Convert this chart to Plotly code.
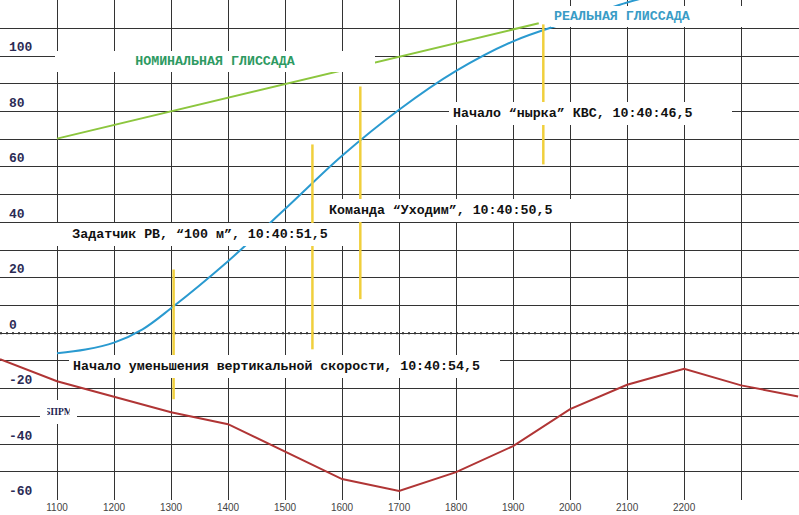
import plotly.graph_objects as go

# ---------------- data ----------------
distance_ticks = [1000, 1100, 1200, 1300, 1400, 1500, 1600, 1700, 1800,
                  1900, 2000, 2100, 2200, 2300, 2400]
distance_tick_labels = ["", "1100", "1200", "1300", "1400", "1500", "1600",
                        "1700", "1800", "1900", "2000", "2100", "2200", "", ""]
height_ticks = [-60, -40, -20, 0, 20, 40, 60, 80, 100]
height_tick_labels = ["-60", "-40", "-20", "0", "20", "40", "60", "80", "100"]

nominal_x = [1100, 1945]
nominal_y = [70.2, 111.8]

real_x = [1100, 1150, 1200, 1250, 1300, 1400, 1500, 1600, 1700, 1800, 1900, 2000, 2100, 2150]
real_y = [-7.2, -5.9, -3.4, 1.4, 9.0, 26.0, 44.8, 64.0, 80.6, 94.6, 105.3, 112.5, 119.3, 122.0]

vspeed_x = [1000, 1100, 1300, 1400, 1600, 1700, 1800, 1900, 2000, 2100, 2200, 2300, 2400]
vspeed_y = [-9.4, -17.3, -28.5, -32.8, -52.6, -56.9, -50.1, -40.7, -27.4, -18.6, -12.8, -18.8, -22.8]

event_x = [1304.5, 1548, 1632, 1953]
event_y_low = [-23.8, -5.8, 12.3, 60.9]
event_y_high = [23.0, 68.1, 89.0, 111.4]

event_texts = [
    "Начало “нырка” КВС, 10:40:46,5",
    "Команда “Уходим”, 10:40:50,5",
    "Задатчик РВ, “100 м”, 10:40:51,5",
    "Начало уменьшения вертикальной скорости, 10:40:54,5",
]
series_names = ["НОМИНАЛЬНАЯ ГЛИССАДА", "РЕАЛЬНАЯ ГЛИССАДА"]
beacon_label = "БПРМ"

# ---------------- figure ----------------
W, H, PLOT_H = 799, 515, 500

fig = go.Figure()

fig.add_trace(go.Scatter(x=nominal_x, y=nominal_y, mode="lines",
                         line=dict(color="#8cc63e", width=2), name=series_names[0]))
fig.add_trace(go.Scatter(x=real_x, y=real_y, mode="lines", line_shape="spline",
                         line=dict(color="#2a9ad0", width=2), name=series_names[1]))
fig.add_trace(go.Scatter(x=vspeed_x, y=vspeed_y, mode="lines",
                         line=dict(color="#b03535", width=2), name="Vy"))

ex, ey = [], []
for x, lo, hi in zip(event_x, event_y_low, event_y_high):
    ex += [x, x, None]
    ey += [lo, hi, None]
fig.add_trace(go.Scatter(x=ex, y=ey, mode="lines",
                         line=dict(color="#f0cf3c", width=2.5), name="events"))

# dotted zero line (cover solid gridline first)
fig.add_shape(type="line", xref="paper", x0=0, x1=1, yref="y", y0=0, y1=0,
              line=dict(color="white", width=2), layer="between")
fig.add_shape(type="line", xref="paper", x0=0, x1=1, yref="y", y0=0, y1=0,
              line=dict(color="#222222", width=2, dash="2px,4px"), layer="between")


def px(xp):
    return xp / W


def py(yp):
    return 1 - yp / PLOT_H


mono = "Liberation Mono"
TS = 13.3
# (text, box_left_px, box_right_px, center_y_px, align, color, size, family, pad)
label_specs = [
    (event_texts[0], 449, 732, 114, "left", "#111111", TS, mono, 4),
    (event_texts[1], 325, 575, 211, "left", "#111111", TS, mono, 4),
    (event_texts[2], 50, 350, 234, "center", "#111111", TS, mono, 4),
    (event_texts[3], 69, 500, 366, "left", "#111111", TS, mono, 4),
    (series_names[0], 55, 375, 61, "center", "#2e9a62", TS, mono, 3),
    (series_names[1], 551, 790, 16, "left", "#3a9cc6", TS, mono, 3),
    (beacon_label, 40, 77, 412, "center", "#22224f", 9.5, "Liberation Serif", 7),
]
for text, l, r, cy, align, color, size, fam, pad in label_specs:
    fig.add_annotation(
        xref="paper", yref="paper", x=px(l), y=py(cy), xanchor="left", yanchor="middle",
        text=text, showarrow=False, align=align, width=r - l - 2 * pad,
        bgcolor="white", borderpad=pad, borderwidth=0,
        font=dict(family=fam, size=size, color=color, weight="bold"),
    )

fig.update_layout(
    width=W, height=H,
    margin=dict(l=0, r=0, t=0, b=H - PLOT_H, pad=0, autoexpand=False),
    paper_bgcolor="white", plot_bgcolor="white",
    showlegend=False, hovermode=False,
    xaxis=dict(
        range=[1000, 2401.5], tickmode="array", tickvals=distance_ticks,
        ticktext=distance_tick_labels, showgrid=True, gridcolor="#333333", gridwidth=1,
        zeroline=False, showline=False, ticks="", automargin=False,
        tickfont=dict(family="Liberation Sans", size=10, color="#444444"),
    ),
    yaxis=dict(
        range=[-60.15, 120.2], tickmode="array", tickvals=height_ticks,
        ticktext=height_tick_labels, showgrid=True, gridcolor="#333333", gridwidth=1,
        minor=dict(tickmode="linear", tick0=0, dtick=10, showgrid=True,
                   gridcolor="#333333", gridwidth=1),
        zeroline=False, showline=False, ticks="", automargin=False,
        ticklabelposition="inside top", ticklabelstandoff=6,
        tickfont=dict(family=mono, size=13, color="#2b2b55", weight="bold"),
    ),
)

fig.write_html("out.html", config={"displayModeBar": False},
               post_script="document.body.style.margin='0px';")
